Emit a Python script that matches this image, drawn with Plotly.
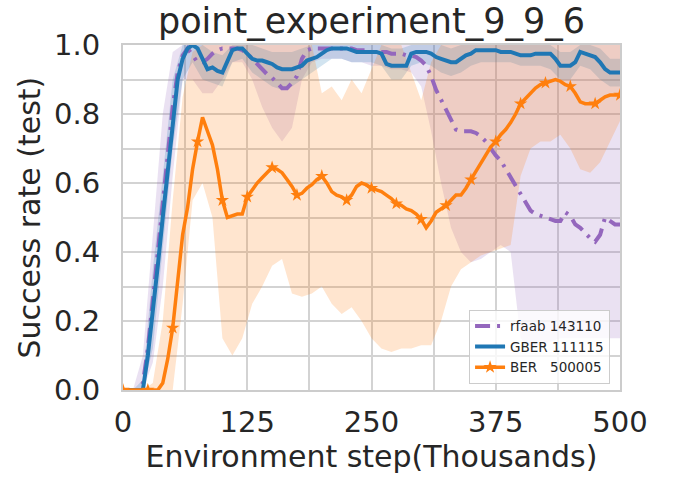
import plotly.graph_objects as go

# ---------------- data ----------------
steps = list(range(0, 505, 5))          # environment step (thousands), mean curves
band_steps = list(range(0, 510, 10))    # environment step (thousands), spread bands

rfaab_mean = [0, 0, 0, 0,
              0.02, 0.12, 0.26, 0.40, 0.54, 0.68, 0.82, 0.92, 0.97, 0.99,
              0.97, 0.95, 0.95, 0.96, 0.975, 0.985, 0.99, 0.99, 0.99, 0.99,
              0.985, 0.975, 0.96, 0.945, 0.93, 0.915, 0.905, 0.89, 0.875, 0.875,
              0.89, 0.91, 0.96, 0.985, 0.99, 0.99, 0.99, 0.99, 0.99, 0.99,
              0.99, 0.99, 0.99, 0.985, 0.985, 0.985, 0.98, 0.98, 0.98, 0.98,
              0.975, 0.975, 0.975, 0.97, 0.97, 0.965, 0.955, 0.94, 0.91, 0.87,
              0.84, 0.81, 0.78, 0.755, 0.75, 0.75, 0.75, 0.745, 0.735, 0.72,
              0.70, 0.68, 0.665, 0.64, 0.615, 0.59, 0.565, 0.54, 0.52, 0.51,
              0.505, 0.50, 0.495, 0.49, 0.49, 0.515, 0.505, 0.48, 0.47, 0.455,
              0.44, 0.43, 0.45, 0.50, 0.49, 0.48, 0.48]

gber_mean = [0, 0, 0, 0,
             0.0, 0.10, 0.22, 0.36, 0.50, 0.64, 0.78, 0.90, 0.96, 0.99,
             1.0, 0.99, 0.96, 0.93, 0.935, 0.925, 0.92, 0.95, 0.985, 0.99,
             0.99, 0.975, 0.96, 0.955, 0.955, 0.95, 0.945, 0.935, 0.93, 0.93,
             0.93, 0.935, 0.94, 0.955, 0.96, 0.965, 0.975, 0.985, 0.99, 0.99,
             0.99, 0.99, 0.985, 0.98, 0.98, 0.98, 0.98, 0.98, 0.975, 0.945,
             0.94, 0.94, 0.94, 0.94, 0.975, 0.98, 0.98, 0.98, 0.975, 0.965,
             0.96, 0.955, 0.95, 0.95, 0.96, 0.97, 0.975, 0.985, 0.985, 0.985,
             0.985, 0.985, 0.98, 0.98, 0.98, 0.975, 0.97, 0.97, 0.97, 0.975,
             0.975, 0.975, 0.975, 0.96, 0.94, 0.94, 0.94, 0.95, 0.98, 0.975,
             0.97, 0.965, 0.95, 0.93, 0.92, 0.92, 0.92]

ber_mean = [0, 0, 0, 0,
            0, 0, 0, 0, 0.02, 0.09, 0.18, 0.31, 0.45, 0.53,
            0.64, 0.72, 0.79, 0.75, 0.71, 0.64, 0.55, 0.50, 0.505, 0.51,
            0.51, 0.56, 0.58, 0.60, 0.615, 0.63, 0.645, 0.64, 0.63, 0.61,
            0.59, 0.565, 0.57, 0.585, 0.595, 0.61, 0.62, 0.60, 0.575, 0.565,
            0.56, 0.55, 0.565, 0.59, 0.60, 0.595, 0.585, 0.58, 0.575, 0.565,
            0.555, 0.54, 0.535, 0.525, 0.52, 0.51, 0.495, 0.47, 0.49, 0.515,
            0.525, 0.535, 0.55, 0.565, 0.565, 0.585, 0.61, 0.635, 0.655, 0.68,
            0.705, 0.72, 0.74, 0.755, 0.775, 0.80, 0.83, 0.845, 0.86, 0.875,
            0.885, 0.89, 0.895, 0.90, 0.895, 0.885, 0.88, 0.86, 0.835, 0.83,
            0.83, 0.83, 0.84, 0.85, 0.855, 0.855, 0.855]

rfaab_lo = [0, 0, 0, 0.08, 0.30, 0.62, 0.90, 0.90, 0.86, 0.86,
            0.90, 0.95, 0.95, 0.90, 0.82, 0.76, 0.72, 0.76, 0.90, 0.95,
            0.96, 0.96, 0.96, 0.95, 0.95, 0.94, 0.94, 0.93, 0.93, 0.92,
            0.88, 0.75, 0.60, 0.47, 0.40, 0.37, 0.38, 0.40, 0.42, 0.40,
            0.15, 0.12, 0.13, 0.14, 0.15, 0.15, 0.15, 0.15, 0.15, 0.15,
            0.15]
rfaab_hi = [0, 0, 0.10, 0.45, 0.80, 0.98, 1, 1, 1, 1,
            1, 1, 1, 1, 1, 1, 1, 1, 1, 1,
            1, 1, 1, 1, 1, 1, 1, 1, 1, 1,
            1, 1, 1, 1, 1, 1, 1, 1, 1, 1,
            1, 1, 1, 1, 1, 1, 1, 1, 1, 1,
            1]

gber_lo = [0, 0, 0, 0.12, 0.40, 0.70, 0.90, 0.95, 0.90, 0.89,
           0.88, 0.95, 0.96, 0.92, 0.90, 0.88, 0.87, 0.88, 0.90, 0.92,
           0.94, 0.96, 0.96, 0.95, 0.95, 0.95, 0.94, 0.90, 0.90, 0.94,
           0.95, 0.94, 0.92, 0.91, 0.92, 0.94, 0.95, 0.95, 0.95, 0.95,
           0.94, 0.94, 0.94, 0.93, 0.90, 0.90, 0.94, 0.93, 0.90, 0.88,
           0.88]
gber_hi = [0, 0, 0.03, 0.35, 0.62, 0.90, 1, 1, 1, 0.98,
           0.97, 1, 1, 1, 0.99, 0.98, 0.98, 0.98, 0.99, 1,
           1, 1, 1, 1, 1, 1, 1, 0.99, 0.99, 1,
           1, 1, 1, 0.99, 1, 1, 1, 1, 1, 1,
           1, 1, 1, 1, 0.98, 0.98, 1, 1, 0.99, 0.96,
           0.96]

ber_lo = [0, 0, 0, 0, 0, 0, 0.25, 0.55, 0.60, 0.50,
          0.15, 0.10, 0.15, 0.25, 0.30, 0.36, 0.38, 0.28, 0.27, 0.28,
          0.30, 0.25, 0.22, 0.24, 0.20, 0.15, 0.12, 0.11, 0.12, 0.12,
          0.13, 0.13, 0.20, 0.30, 0.35, 0.37, 0.39, 0.40, 0.41, 0.42,
          0.62, 0.70, 0.72, 0.72, 0.74, 0.70, 0.64, 0.63, 0.66, 0.72,
          0.78]
ber_hi = [0, 0, 0, 0.02, 0.20, 0.55, 0.85, 0.98, 1, 1,
          1, 1, 1, 1, 1, 1, 1, 1, 1, 1,
          0.86, 0.88, 0.84, 0.90, 0.86, 0.93, 1, 1, 1, 0.92,
          0.84, 0.95, 1, 1, 1, 1, 1, 1, 1, 1,
          1, 1, 1, 1, 1, 1, 1, 1, 1, 1,
          1]

x_tick_vals = [0, 62.5, 125, 187.5, 250, 312.5, 375, 437.5, 500]
x_tick_text = ["0", "", "125", "", "250", "", "375", "", "500"]
y_tick_vals = [0, 0.1, 0.2, 0.3, 0.4, 0.5, 0.6, 0.7, 0.8, 0.9, 1.0]
y_tick_text = ["0.0", "", "0.2", "", "0.4", "", "0.6", "", "0.8", "", "1.0"]

names = ["rfaab 143110", "GBER 111115", "BER\u00a0\u00a0\u00a0500005"]

# ---------------- style ----------------
PURPLE = "#9467bd"
BLUE = "#1f77b4"
ORANGE = "#ff7f0e"
TXT = "#262626"
GRID = "#d3d3d3"
FONT = "DejaVu Sans"

fig = go.Figure()

def band(xs, lo, hi, rgba):
    fig.add_trace(go.Scatter(x=xs, y=lo, mode="lines", line=dict(width=0),
                             hoverinfo="skip", showlegend=False))
    fig.add_trace(go.Scatter(x=xs, y=hi, mode="lines", line=dict(width=0),
                             fill="tonexty", fillcolor=rgba,
                             hoverinfo="skip", showlegend=False))

band(band_steps, rfaab_lo, rfaab_hi, "rgba(148,103,189,0.2)")
band(band_steps, gber_lo, gber_hi, "rgba(31,119,180,0.2)")
band(band_steps, ber_lo, ber_hi, "rgba(255,127,14,0.2)")

fig.add_trace(go.Scatter(x=steps, y=rfaab_mean, mode="lines", name=names[0],
                         line=dict(color=PURPLE, width=4, dash="15px,7px,3px,7px")))
fig.add_trace(go.Scatter(x=steps, y=gber_mean, mode="lines", name=names[1],
                         line=dict(color=BLUE, width=4)))
marker_colors = [ORANGE if i % 5 == 0 else "rgba(0,0,0,0)" for i in range(len(steps))]
fig.add_trace(go.Scatter(x=steps, y=ber_mean, mode="lines+markers", name=names[2],
                         line=dict(color=ORANGE, width=3.5),
                         marker=dict(symbol="star", size=10, color=marker_colors,
                                     line=dict(width=0))))

fig.update_layout(
    width=673, height=483,
    margin=dict(l=123, r=53, t=45, b=93, autoexpand=False),
    paper_bgcolor="white", plot_bgcolor="white",
    font=dict(family=FONT, color=TXT),
    title=dict(text="point_experiment_9_9_6", x=0.5, xref="paper",
               xanchor="center", y=0.9565, yref="container", yanchor="middle",
               font=dict(size=35, color=TXT, family=FONT)),
    showlegend=True,
    legend=dict(x=0.98, y=0.018, xanchor="right", yanchor="bottom",
                traceorder="normal",
                bgcolor="rgba(255,255,255,0.8)", bordercolor="#cccccc",
                borderwidth=1, font=dict(size=13.5, color=TXT, family=FONT),
                itemwidth=30, tracegroupgap=0),
    annotations=[dict(text="Success rate (test)", xref="paper", yref="paper",
                      x=-0.189, y=0.5, xanchor="center", yanchor="middle",
                      textangle=-90, showarrow=False,
                      font=dict(size=30, color=TXT, family=FONT))],
)
fig.update_xaxes(range=[0, 500], tickvals=x_tick_vals, ticktext=x_tick_text,
                 automargin=False,
                 showgrid=True, gridcolor=GRID, gridwidth=1.5,
                 showline=True, mirror=True, linecolor="#cccccc", linewidth=2,
                 ticks="outside", ticklen=5, tickcolor="rgba(0,0,0,0)",
                 tickfont=dict(size=29, color=TXT, family=FONT),
                 zeroline=False,
                 title=dict(text="Environment step(Thousands)", standoff=7,
                            font=dict(size=30, color=TXT, family=FONT)))
fig.update_yaxes(range=[0, 1], tickvals=y_tick_vals, ticktext=y_tick_text,
                 automargin=False,
                 showgrid=True, gridcolor=GRID, gridwidth=1.5,
                 showline=True, mirror=True, linecolor="#cccccc", linewidth=2,
                 ticks="outside", ticklen=15, tickcolor="rgba(0,0,0,0)",
                 tickfont=dict(size=29, color=TXT, family=FONT),
                 zeroline=False)

fig.write_html("out.html", config={"displayModeBar": False},
               post_script="document.body.style.margin='0';")
